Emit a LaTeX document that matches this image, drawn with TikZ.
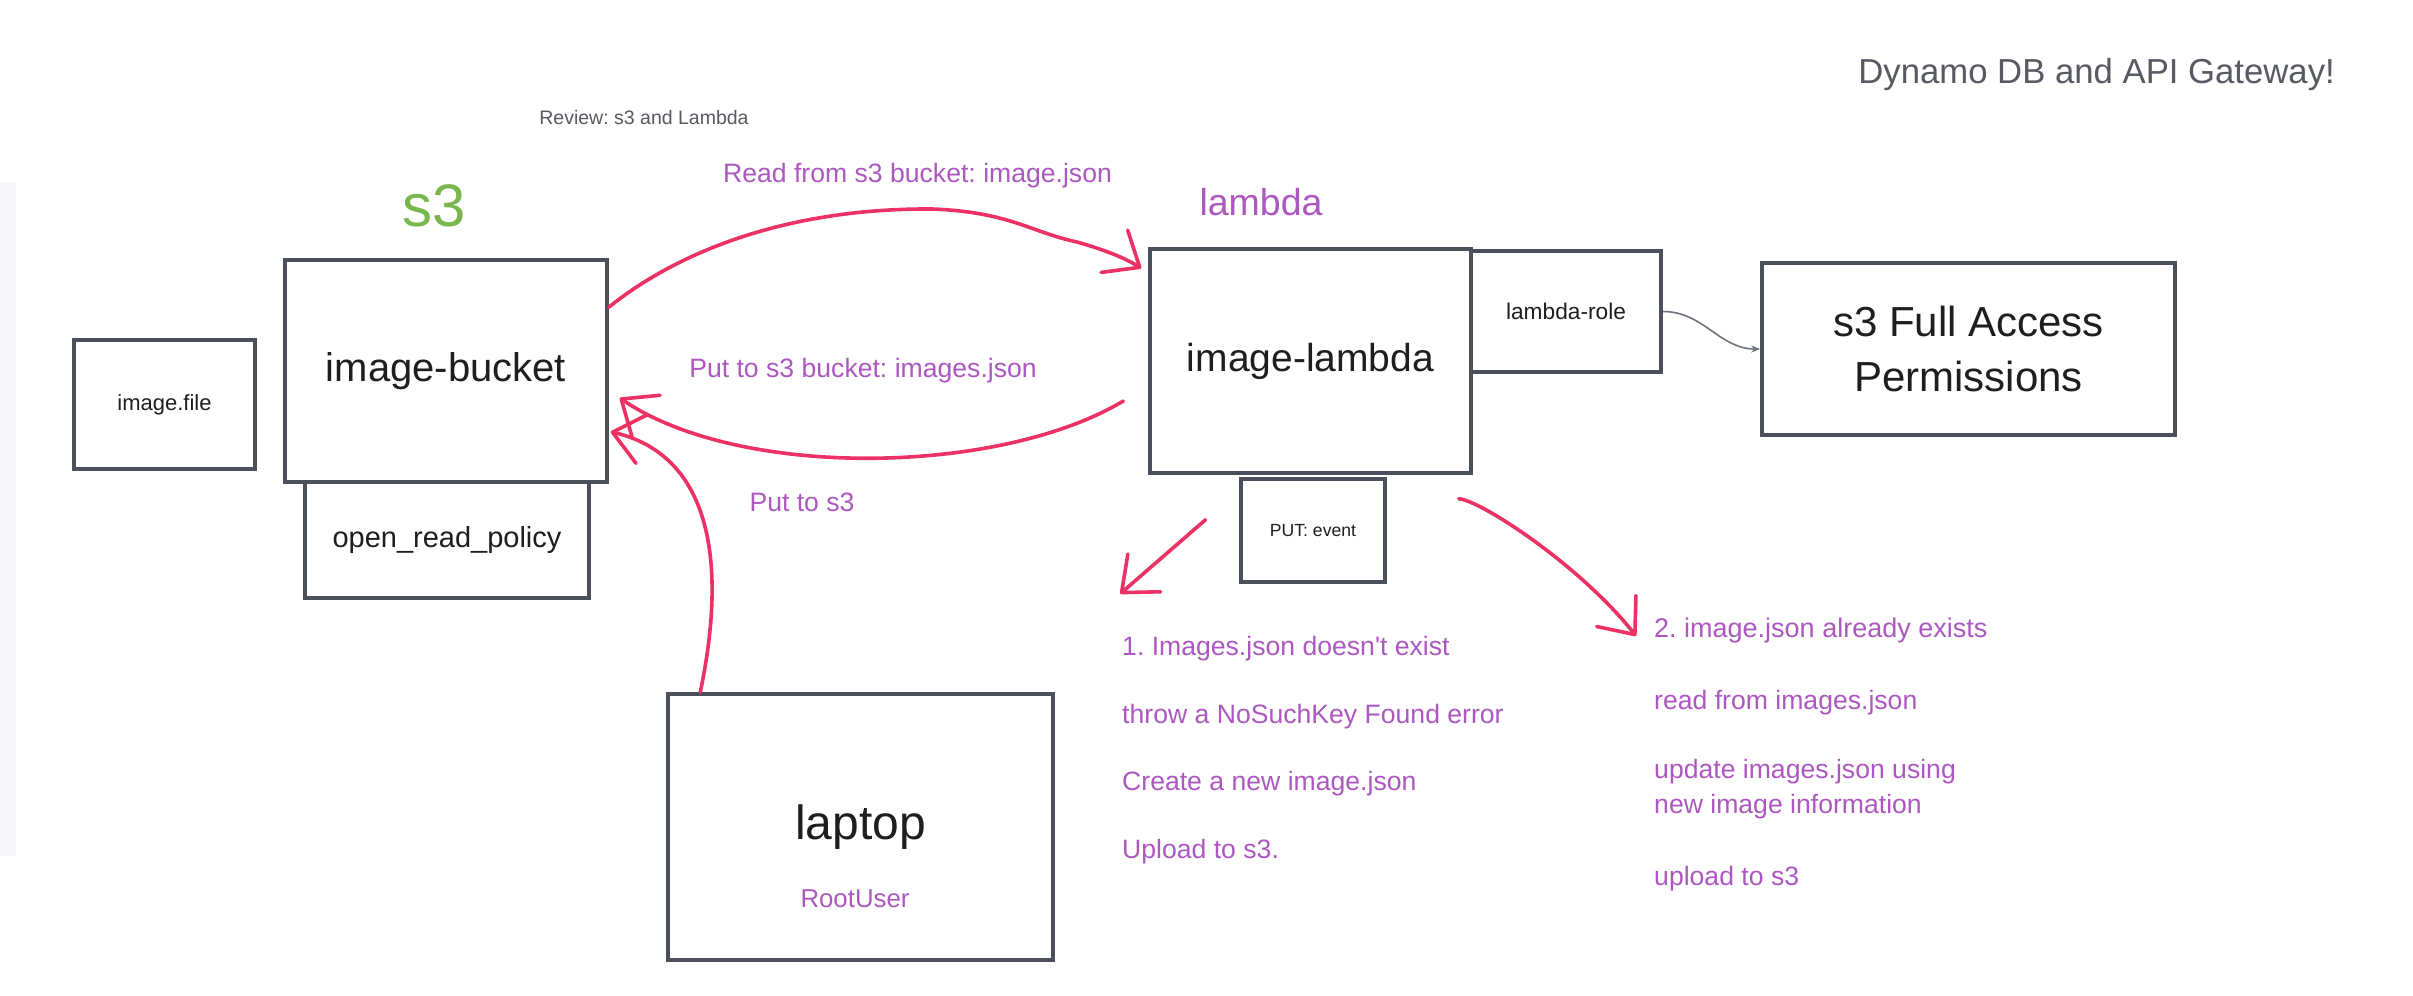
\documentclass[tikz,border=0pt]{standalone}
\usepackage{fontspec}
\setmainfont{Liberation Sans}
\newfontfamily\plainapos{Liberation Sans}
\usetikzlibrary{arrows.meta,calc}
\definecolor{boxc}{RGB}{75,80,92}
\definecolor{txt}{RGB}{30,30,32}
\definecolor{graytxt}{RGB}{88,90,98}
\definecolor{purp}{RGB}{172,88,192}
\definecolor{sgreen}{RGB}{122,182,78}
\definecolor{redc}{RGB}{236,50,100}
\definecolor{band}{RGB}{246,246,248}
\newcommand\fsz[2]{\fontsize{#1}{#2}\selectfont}
\frenchspacing
\tikzset{
  box/.style={draw=boxc, line width=3.5pt, inner sep=0pt, text=txt, align=center},
  lbl/.style={inner sep=0pt, text=purp, font=\fsz{26.6}{32}},
  redarrow/.style={draw=redc, line width=3.6pt, line cap=round, line join=round,
    -{Straight Barb[length=30pt,width=50pt,line cap=round,line join=round]}},
  grayarrow/.style={draw=boxc!80, line width=1.6pt, -{Stealth[length=9pt,width=7pt]}}
}
\begin{document}
\begin{tikzpicture}[x=1pt,y=-1pt]
\fill[white] (0,0) rectangle (2413,996);
\useasboundingbox (0,0) rectangle (2413,996);
\fill[band] (0,182) rectangle (16,856);

% titles
\node[inner sep=0pt, anchor=east, text=graytxt, font=\fsz{34.7}{40}] (dyn) at (2335,75) {Dynamo DB and API Gateway!};
\node[inner sep=0pt, text=graytxt, font=\fsz{19.5}{23}] (rev) at (644,118) {Review: s3 and Lambda};
\node[inner sep=0pt, text=sgreen, font=\fsz{60}{70}] (s3lbl) at (434,206) {s3};
\node[inner sep=0pt, text=purp, font=\fsz{37.5}{44}] (lamlbl) at (1261,202) {lambda};

% boxes
\node[box, minimum width=181, minimum height=129, font=\fsz{22}{26}] (file) at (164.5,404.5) {image.file};
\node[box, minimum width=322, minimum height=222, font=\fsz{40}{48}] (bucket) at (446,371) {image-bucket};
\node[box, minimum width=284, minimum height=116, font=\fsz{29}{34}] (policy) at (447,540) {open\_read\_policy};
\node[box, minimum width=321, minimum height=224, font=\fsz{39}{46}] (lambda) at (1310.5,361) {image-lambda};
\node[box, minimum width=190, minimum height=121, font=\fsz{22.7}{27}] (role) at (1566,311.5) {lambda-role};
\node[box, minimum width=413, minimum height=172, font=\fsz{42}{55}] (full) at (1968.5,349) {s3 Full Access\\Permissions};
\node[box, minimum width=144, minimum height=103, font=\fsz{17.6}{21}] (putev) at (1313,530.5) {PUT: event};
\node[box, minimum width=385, minimum height=266, font=\fsz{48}{56}] (laptop) at (860.5,827) {laptop};
\node[lbl, font=\fsz{25.8}{30}] (root) at (855,899) {RootUser};

% arrow labels
\node[lbl] (readlbl) at (917.5,176) {Read from s3 bucket: image.json};
\node[lbl] (putlbl) at (863,371) {Put to s3 bucket: images.json};
\node[lbl] (puts3) at (802,502) {Put to s3};

% case 1
\node[lbl, anchor=west] (l1) at (1122,649) {1. Images.json doesn{\plainapos'}t exist};
\node[lbl, anchor=west] (l2) at (1122,717) {throw a NoSuchKey Found error};
\node[lbl, anchor=west] (l3) at (1122,784) {Create a new image.json};
\node[lbl, anchor=west] (l4) at (1122,852) {Upload to s3.};

% case 2
\node[lbl, anchor=west, font=\fsz{27}{32}] (r1) at (1654,631) {2. image.json already exists};
\node[lbl, anchor=west] (r2) at (1654,703) {read from images.json};
\node[lbl, anchor=west, align=left, font=\fsz{26.6}{35}] (r3) at (1654,789) {update images.json using\\new image information};
\node[lbl, anchor=west] (r4) at (1654,879) {upload to s3};

% connectors
\draw[grayarrow] (role.east) to[out=0,in=180] (full.west);

\draw[redarrow] ($(bucket.north east)+(0,49)$) .. controls (680,250) and (790,208) .. (932,209)
   .. controls (1010,212) and (1030,232) .. (1077,242)
   .. controls (1105,250) and (1125,258) .. ($(lambda.north west)+(-7,21)$);
\draw[redarrow] ($(lambda.west)+(-25,40)$) .. controls (1000,475) and (740,480) .. ($(bucket.east)+(11,27)$);
\draw[redarrow] ($(laptop.north west)+(34,0)$) .. controls (728,560) and (710,455) .. ($(bucket.south east)+(2,-52)$);
\draw[redarrow] ($(lambda.south)+(-105,45)$) -- ($(putev.south west)+(-119,10)$);
\draw[redarrow] ($(lambda.south east)+(-14,24)$) .. controls (1480,500) and (1580,565) .. ($(r1.west)+(-18,5)$);
\end{tikzpicture}
\end{document}
